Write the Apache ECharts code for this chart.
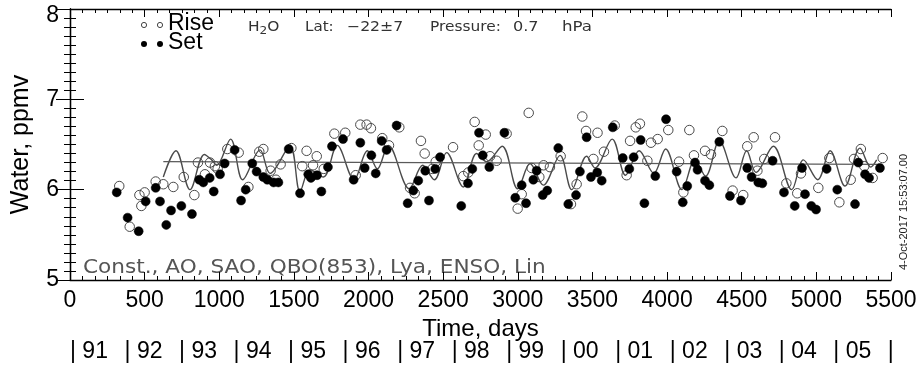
<!DOCTYPE html>
<html>
<head>
<meta charset="utf-8">
<script src="https://cdn.jsdelivr.net/npm/echarts@6/dist/echarts.min.js"></script>
<style>
  html, body { margin: 0; padding: 0; background: #fff; }
  #chart { width: 924px; height: 373px; }
</style>
</head>
<body>
<div id="chart"></div>
<script>
// Sunrise occultations: [day, water vapour ppmv]
const riseData = [
  [330,6.04],[400,5.59],[465,5.94],[478,5.82],[500,5.97],[574,6.09],[625,6.06],[692,6.03],
  [762,6.14],[833,5.94],[857,6.30],[904,6.17],[938,6.30],[971,6.26],[989,6.23],[1054,6.45],
  [1130,6.41],[1195,6.03],[1268,6.42],[1295,6.45],[1344,6.21],[1380,6.11],[1411,6.28],[1483,6.46],
  [1556,6.26],[1585,6.43],[1628,6.27],[1653,6.37],[1700,6.23],[1771,6.62],[1844,6.63],[1914,6.16],
  [1945,6.72],[1987,6.72],[2016,6.68],[2092,6.57],[2137,6.49],[2206,6.69],[2278,6.02],[2309,5.96],
  [2351,6.54],[2376,6.40],[2427,6.23],[2450,6.31],[2566,6.47],[2635,6.15],[2668,6.19],[2711,6.75],
  [2738,6.49],[2785,6.61],[2814,6.37],[2858,6.32],[2925,6.62],[2999,5.79],[3026,5.95],[3073,6.85],
  [3093,6.24],[3144,6.14],[3173,6.27],[3215,6.25],[3287,6.37],[3356,5.84],[3394,6.06],[3432,6.81],
  [3457,6.65],[3506,6.34],[3534,6.63],[3577,6.42],[3649,6.71],[3729,6.16],[3752,6.54],[3790,6.69],
  [3818,6.73],[3868,6.32],[3892,6.52],[3937,6.56],[4008,6.66],[4080,6.31],[4109,5.97],[4149,6.66],
  [4180,6.38],[4254,6.43],[4294,6.39],[4370,6.65],[4439,5.99],[4510,5.94],[4537,6.48],[4580,6.58],
  [4605,6.21],[4651,6.34],[4723,6.58],[4799,6.07],[4872,5.96],[4897,6.18],[5013,6.02],[5087,6.35],
  [5154,5.86],[5230,6.11],[5252,6.34],[5298,6.45],[5321,6.26],[5377,6.13],[5444,6.35]
];

// Sunset occultations: [day, water vapour ppmv]
const setData = [
  [313,5.97],[386,5.69],[460,5.54],[507,5.87],[574,6.02],[603,5.87],[645,5.61],[677,5.77],
  [746,5.82],[817,5.73],[866,6.11],[893,6.08],[936,6.13],[963,5.98],[1005,6.17],[1036,6.29],
  [1103,6.44],[1146,5.88],[1177,6.00],[1221,6.29],[1250,6.20],[1295,6.14],[1322,6.11],[1364,6.08],
  [1396,6.08],[1465,6.45],[1541,5.96],[1596,6.17],[1614,6.13],[1655,6.16],[1684,5.98],[1728,6.25],
  [1755,6.48],[1829,6.56],[1900,6.11],[1945,6.52],[1974,6.24],[2019,6.38],[2048,6.18],[2088,6.54],
  [2121,6.44],[2188,6.71],[2262,5.85],[2300,5.99],[2333,6.10],[2380,6.21],[2405,5.88],[2447,6.23],
  [2479,6.36],[2621,5.82],[2666,6.07],[2695,6.23],[2740,6.63],[2765,6.38],[2809,6.25],[2910,6.63],
  [2983,5.91],[3026,6.05],[3055,5.85],[3104,6.11],[3126,6.21],[3167,5.94],[3197,5.99],[3271,6.46],
  [3338,5.84],[3390,5.94],[3416,6.20],[3461,6.58],[3490,6.14],[3532,6.19],[3562,6.10],[3636,6.69],
  [3703,6.35],[3747,6.23],[3776,6.36],[3823,6.55],[3848,5.85],[3921,6.15],[3993,6.78],[4064,6.20],
  [4105,5.86],[4135,6.04],[4187,6.30],[4204,6.22],[4254,6.10],[4283,6.05],[4350,6.53],[4421,5.93],
  [4495,5.88],[4537,6.24],[4566,6.14],[4611,6.08],[4638,6.07],[4707,6.32],[4783,5.97],[4855,5.82],
  [4904,6.24],[4924,5.95],[4966,5.82],[4998,5.78],[5069,6.23],[5140,6.00],[5259,5.84],[5281,6.30],
  [5326,6.17],[5353,6.13],[5426,6.24]
];

// Regression model (constant, annual, semi-annual, QBO, Lyman-alpha, ENSO, linear)
const fitData = [
  [625,6.14],[710,6.43],[804,6.00],[900,6.39],[949,6.33],[982,6.27],[1076,6.56],[1157,6.11],
  [1273,6.44],[1340,6.18],[1474,6.48],[1541,5.98],[1608,6.22],[1697,6.14],[1790,6.49],[1903,6.11],
  [1992,6.43],[2059,6.23],[2133,6.49],[2273,6.01],[2363,6.27],[2441,6.11],[2523,6.41],[2635,6.03],
  [2724,6.40],[2791,6.31],[2895,6.48],[2999,6.01],[3082,6.29],[3171,6.05],[3283,6.38],[3361,6.00],
  [3461,6.37],[3517,6.24],[3632,6.56],[3722,6.16],[3813,6.43],[3911,6.18],[3990,6.45],[4100,6.00],
  [4187,6.33],[4258,6.15],[4350,6.54],[4462,6.13],[4533,6.43],[4596,6.19],[4712,6.48],[4835,6.00],
  [4913,6.33],[5009,6.11],[5092,6.43],[5192,6.04],[5292,6.46],[5364,6.25],[5404,6.33]
];

// Linear term of the fit
const trendData = [[625,6.31],[5420,6.28]];

// Axis settings
const xTicks = { min: 0, max: 5500, step: 500 };
const yTicks = { min: 5, max: 8, step: 1 };
const yearStep = 365.25;
const firstYear = 1991;
const yearCount = 15;

const annotation = {
  species: 'H{sub|2}O',
  lat: 'Lat:',
  latValue: '\u221222\u00b17',
  pressure: 'Pressure:',
  pressureValue: '0.7',
  unit: 'hPa',
  terms: 'Const., AO, SAO, QBO(853), Lya, ENSO, Lin',
  stamp: '4-Oct-2017 15:53:07.00'
};

const sans = '"Liberation Sans", Arial, Helvetica, sans-serif';
const thin = '"DejaVu Sans", sans-serif';

const chart = echarts.init(document.getElementById('chart'), null, { renderer: 'canvas' });

const boxLine = { show: true, lineStyle: { color: '#000', width: 1.3 } };

function yearLabel(v) {
  const k = Math.round(v / yearStep);
  if (Math.abs(v - k * yearStep) > 1 || k > yearCount) return '';
  if (k === yearCount) return '|';
  const yy = String((firstYear + k) % 100).padStart(2, '0');
  return '| ' + yy;
}

// thin, slightly widened annotation text
function note(text, x, y, size, fill, sx) {
  return {
    type: 'text', x: x, y: y, scaleX: sx, scaleY: 1,
    style: {
      text: text, font: size + 'px ' + thin, fill: fill,
      align: 'left', verticalAlign: 'middle',
      rich: { sub: { font: Math.round(size * 0.75) + 'px ' + thin, fill: fill, padding: [8, 0, 0, 0] } }
    }
  };
}

const option = {
  backgroundColor: '#fff',
  animation: false,
  grid: { left: 70, right: 33, top: 9, bottom: 93, containLabel: false },
  xAxis: [
    {
      type: 'value', position: 'bottom', min: xTicks.min, max: xTicks.max, interval: xTicks.step,
      axisLine: boxLine,
      axisTick: { show: true, inside: true, length: 8, lineStyle: { color: '#000', width: 1 } },
      minorTick: { show: true, splitNumber: 6, length: 4, lineStyle: { color: '#000', width: 1 } },
      splitLine: { show: false },
      axisLabel: { show: true, fontFamily: sans, fontSize: 23, color: '#000', margin: 9, formatter: v => String(v) },
      name: 'Time, days', nameLocation: 'middle', nameGap: 35,
      nameTextStyle: { fontFamily: sans, fontSize: 24, color: '#000' }
    },
    {
      type: 'value', position: 'top', min: xTicks.min, max: xTicks.max, interval: xTicks.step,
      axisLine: boxLine,
      axisTick: { show: true, inside: true, length: 8, lineStyle: { color: '#000', width: 1 } },
      minorTick: { show: true, splitNumber: 6, length: 4, lineStyle: { color: '#000', width: 1 } },
      splitLine: { show: false },
      axisLabel: { show: false }
    },
    {
      type: 'value', position: 'bottom', min: xTicks.min, max: xTicks.max, interval: yearStep,
      axisLine: { show: false }, axisTick: { show: false }, splitLine: { show: false },
      axisLabel: {
        show: true, fontFamily: sans, fontSize: 23, color: '#000', margin: 60, align: 'left',
        showMinLabel: true, showMaxLabel: true, formatter: yearLabel
      }
    }
  ],
  yAxis: [
    {
      type: 'value', position: 'left', min: yTicks.min, max: yTicks.max, interval: yTicks.step,
      axisLine: boxLine,
      axisTick: { show: true, inside: true, length: 14, lineStyle: { color: '#000', width: 1 } },
      minorTick: { show: true, splitNumber: 10, length: 6, lineStyle: { color: '#000', width: 1 } },
      splitLine: { show: false },
      axisLabel: {
        show: true, fontFamily: sans, fontSize: 23, color: '#000', margin: 11,
        formatter: v => (v === yTicks.max ? '{top|' + v + '}' : String(v)),
        rich: { top: { fontFamily: sans, fontSize: 23, color: '#000', padding: [13, 0, 0, 0] } }
      },
      name: 'Water, ppmv', nameLocation: 'middle', nameRotate: 90, nameGap: 36,
      nameTextStyle: { fontFamily: sans, fontSize: 25, color: '#000' }
    },
    {
      type: 'value', position: 'right', min: yTicks.min, max: yTicks.max, interval: yTicks.step,
      axisLine: boxLine,
      axisTick: { show: true, inside: true, length: 14, lineStyle: { color: '#000', width: 1 } },
      minorTick: { show: true, splitNumber: 10, length: 6, lineStyle: { color: '#000', width: 1 } },
      splitLine: { show: false },
      axisLabel: { show: false }
    }
  ],
  series: [
    {
      name: 'Fit', type: 'line', data: fitData, xAxisIndex: 0, yAxisIndex: 0,
      showSymbol: false, smooth: 0.35,
      lineStyle: { color: '#4a4a4a', width: 1.4 }, z: 2
    },
    {
      name: 'Trend', type: 'line', data: trendData, xAxisIndex: 0, yAxisIndex: 0,
      showSymbol: false, lineStyle: { color: '#5a5a5a', width: 1.4 }, z: 2
    },
    {
      name: 'Rise', type: 'scatter', data: riseData, xAxisIndex: 0, yAxisIndex: 0,
      symbol: 'circle', symbolSize: 9.5,
      itemStyle: { color: 'rgba(255,255,255,0)', borderColor: '#4a4a4a', borderWidth: 1, opacity: 1 }, z: 3
    },
    {
      name: 'Set', type: 'scatter', data: setData, xAxisIndex: 0, yAxisIndex: 0,
      symbol: 'circle', symbolSize: 9,
      itemStyle: { color: '#000', borderColor: '#000', borderWidth: 0.5, opacity: 1 }, z: 4
    }
  ],
  graphic: [
    // legend
    { type: 'circle', shape: { cx: 144, cy: 25, r: 2.6 }, style: { fill: 'none', stroke: '#444', lineWidth: 1 } },
    { type: 'circle', shape: { cx: 160, cy: 25, r: 2.6 }, style: { fill: 'none', stroke: '#444', lineWidth: 1 } },
    { type: 'text', left: 168, top: 12, style: { text: 'Rise', font: '23px ' + sans, fill: '#000' } },
    { type: 'circle', shape: { cx: 144, cy: 44, r: 3 }, style: { fill: '#000' } },
    { type: 'circle', shape: { cx: 160, cy: 44, r: 3 }, style: { fill: '#000' } },
    { type: 'text', left: 168, top: 31, style: { text: 'Set', font: '23px ' + sans, fill: '#000' } },
    // header annotation
    note(annotation.species, 248, 27, 14, '#333', 1.1),
    note(annotation.lat, 305, 27, 14, '#333', 1.08),
    note(annotation.latValue, 347, 27, 14, '#333', 1.12),
    note(annotation.pressure, 430, 27, 14, '#333', 1.1),
    note(annotation.pressureValue, 513, 27, 14, '#333', 1.15),
    note(annotation.unit, 562, 27, 14, '#333', 1.19),
    // model terms
    note(annotation.terms, 83, 268, 20, '#555', 1.08),
    // time stamp
    {
      type: 'text', x: 904, y: 212, rotation: Math.PI / 2,
      style: { text: annotation.stamp, font: '11px ' + sans, fill: '#222', align: 'center', verticalAlign: 'middle' }
    }
  ]
};

chart.setOption(option);
</script>
</body>
</html>
